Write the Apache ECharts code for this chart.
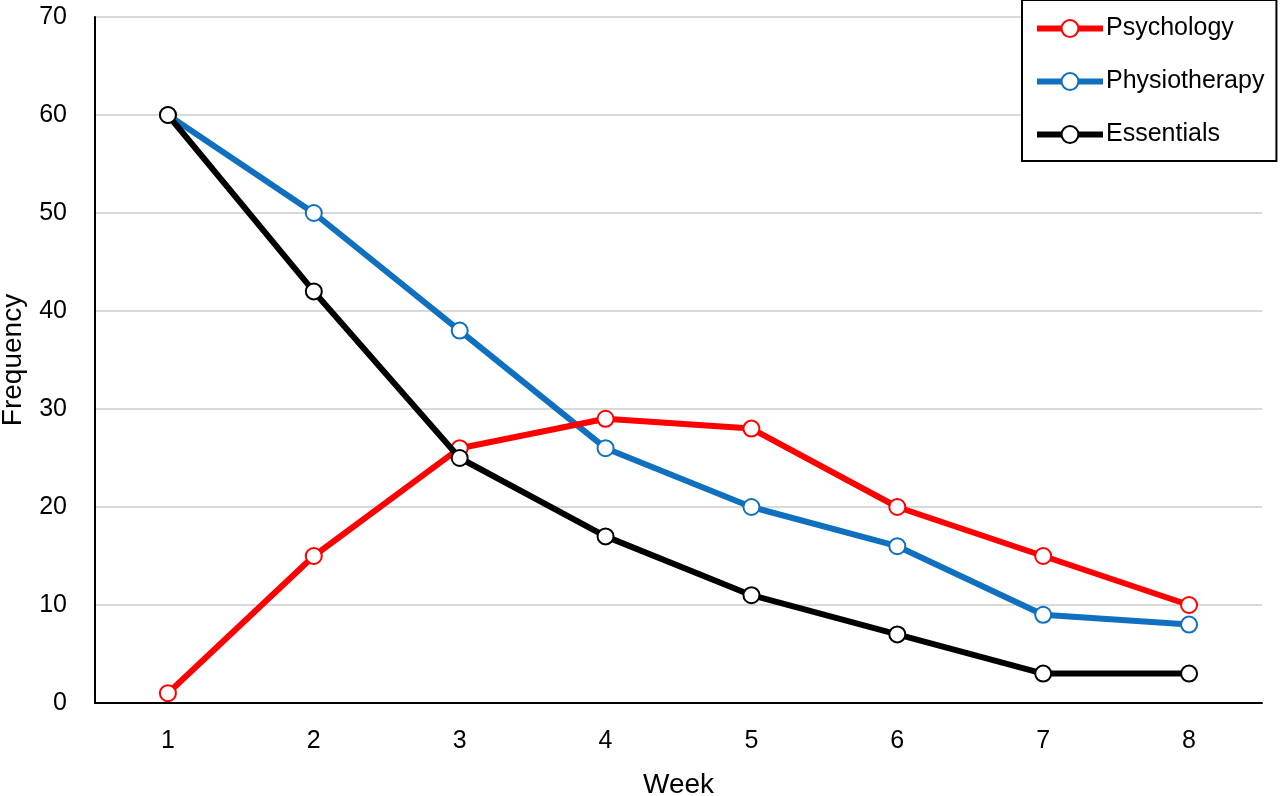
<!DOCTYPE html>
<html>
<head>
<meta charset="utf-8">
<style>
html, body { margin: 0; padding: 0; background: #fff; }
#chart { width: 1280px; height: 796px; }
</style>
</head>
<body>
<div id="chart"></div>
<script src="https://cdn.jsdelivr.net/npm/echarts@6/dist/echarts.min.js"></script>
<script>
var weeks = ['1', '2', '3', '4', '5', '6', '7', '8'];
var psychology = [1, 15, 26, 29, 28, 20, 15, 10];
var physiotherapy = [60, 50, 38, 26, 20, 16, 9, 8];
var essentials = [60, 42, 25, 17, 11, 7, 3, 3];

var font = 'Liberation Sans, Arial, sans-serif';

function lineSeries(name, color, data, z) {
    return {
        name: name,
        type: 'line',
        data: data,
        z: z,
        symbol: 'circle',
        symbolSize: 16,
        showAllSymbol: true,
        color: color,
        lineStyle: { color: color, width: 6 },
        itemStyle: { color: '#fff', borderColor: color, borderWidth: 2 },
        emphasis: { disabled: true }
    };
}

var chart = echarts.init(document.getElementById('chart'));
var option = {
    animation: false,
    textStyle: { fontFamily: font },
    grid: { left: 95, right: 18, top: 17, bottom: 93, outerBoundsMode: 'none' },
    legend: {
        orient: 'vertical',
        left: 1022,
        top: 0,
        padding: [16, 12, 14, 12],
        itemGap: 28,
        itemWidth: 66,
        itemHeight: 21,
        borderColor: '#000',
        borderWidth: 2,
        backgroundColor: '#fff',
        lineStyle: { width: 6 },
        textStyle: { fontSize: 25, color: '#000', fontFamily: font, padding: [0, 0, 0, -2] },
        data: ['Psychology', 'Physiotherapy', 'Essentials']
    },
    xAxis: {
        type: 'category',
        data: weeks,
        name: 'Week',
        nameLocation: 'middle',
        nameGap: 68,
        nameTextStyle: { fontSize: 28, color: '#000' },
        axisLine: { lineStyle: { color: '#000', width: 2 } },
        axisTick: { show: false },
        axisLabel: { fontSize: 25, color: '#000', margin: 26 }
    },
    yAxis: {
        type: 'value',
        min: 0,
        max: 70,
        interval: 10,
        name: 'Frequency',
        nameLocation: 'middle',
        nameGap: 68,
        nameTextStyle: { fontSize: 28, color: '#000' },
        axisLine: { show: true, lineStyle: { color: '#000', width: 2 } },
        axisTick: { show: false },
        axisLabel: { fontSize: 25, color: '#000', margin: 28 },
        splitLine: { lineStyle: { color: '#d9d9d9', width: 2 } }
    },
    series: [
        lineSeries('Psychology', '#ff0000', psychology, 3),
        lineSeries('Physiotherapy', '#0f70c0', physiotherapy, 2),
        lineSeries('Essentials', '#000000', essentials, 4)
    ]
};
chart.setOption(option);
</script>
</body>
</html>
